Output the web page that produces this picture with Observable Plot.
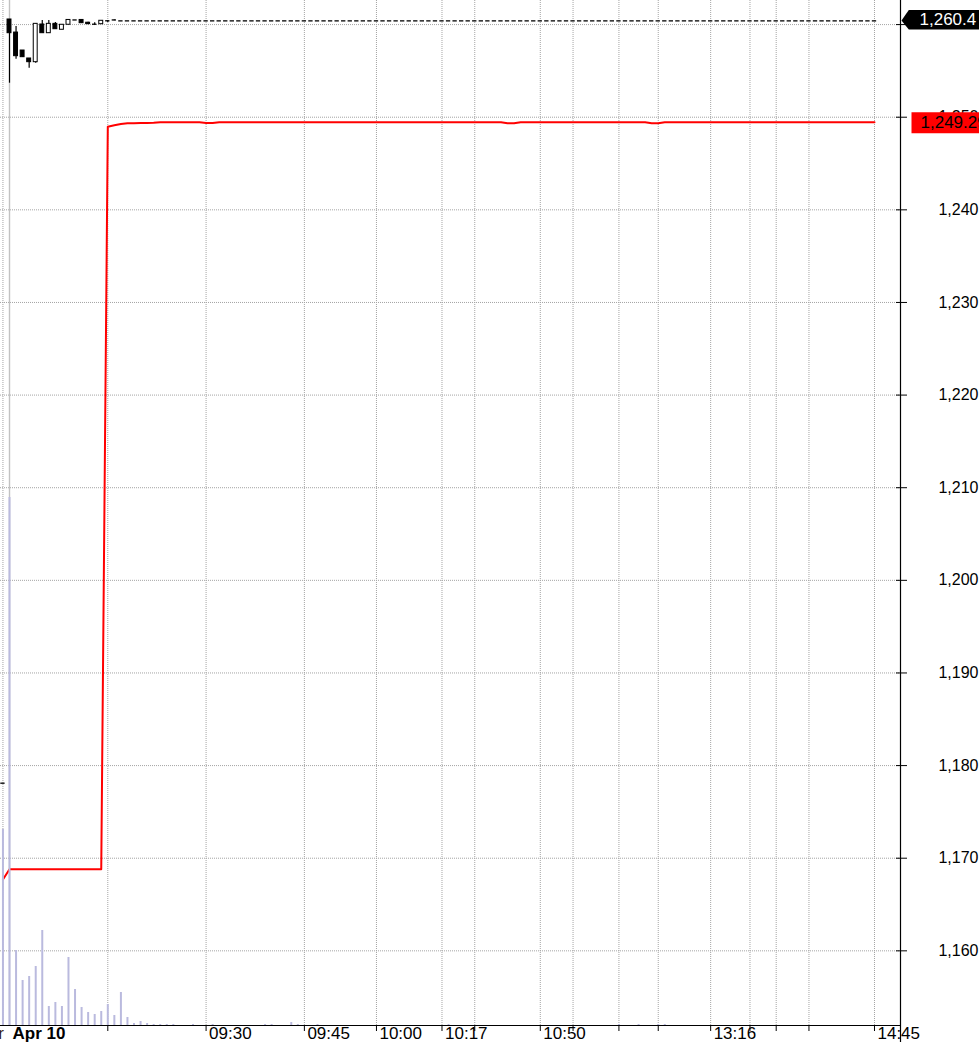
<!DOCTYPE html>
<html><head><meta charset="utf-8">
<script src="https://cdn.jsdelivr.net/npm/d3@7"></script>
<script src="https://cdn.jsdelivr.net/npm/@observablehq/plot@0.6"></script>
<style>
html,body{margin:0;padding:0;background:#fff;overflow:hidden}
#chart{position:relative;width:979px;height:1042px}
#chart svg{position:absolute;left:0;top:0}
</style></head><body><div id="chart"></div>
<script>
// ---- data ----
// opening bars of the session (index 0..17): open / high / low
const openStart = [1178.1, 1260.55, 1259.14, 1257.2, 1256.34, 1255.94, 1260.01, 1259.07, 1260.08, 1259.44,
                   1259.98, 1260.5, 1260.5, 1260.2, 1260.04, 1260.04, 1260.41, 1260.5];
const highStart = [1178.1, 1260.55, 1259.79, 1257.2, 1256.34, 1260.08, 1260.44, 1260.44, 1260.22, 1259.98,
                   1260.5, 1260.5, 1260.5, 1260.26, 1260.19, 1260.41, 1260.41, 1260.5];
const lowStart  = [1178.1, 1253.67, 1256.26, 1256.48, 1255.29, 1255.83, 1259.07, 1259.07, 1259.5, 1259.44,
                   1259.98, 1260.5, 1260.15, 1259.98, 1259.93, 1260.04, 1260.22, 1260.41];
// close of every bar (later bars are flat prints: open = high = low = close)
const close = [
  1178.1, 1259.07, 1256.59, 1256.48, 1255.94, 1260.08, 1259.07, 1260.08, 1259.5, 1259.98,
  1260.5, 1260.5, 1260.15, 1260.05, 1260.04, 1260.41, 1260.41, 1260.5, 1260.4, 1260.4,
  1260.4, 1260.4, 1260.4, 1260.4, 1260.4, 1260.4, 1260.4, 1260.4, 1260.4, 1260.4,
  1260.4, 1260.4, 1260.4, 1260.4, 1260.4, 1260.4, 1260.4, 1260.4, 1260.4, 1260.4,
  1260.4, 1260.4, 1260.4, 1260.4, 1260.4, 1260.4, 1260.4, 1260.4, 1260.4, 1260.4,
  1260.4, 1260.4, 1260.4, 1260.4, 1260.4, 1260.4, 1260.4, 1260.4, 1260.4, 1260.4,
  1260.4, 1260.4, 1260.4, 1260.4, 1260.4, 1260.4, 1260.4, 1260.4, 1260.4, 1260.4,
  1260.4, 1260.4, 1260.4, 1260.4, 1260.4, 1260.4, 1260.4, 1260.4, 1260.4, 1260.4,
  1260.4, 1260.4, 1260.4, 1260.4, 1260.4, 1260.4, 1260.4, 1260.4, 1260.4, 1260.4,
  1260.4, 1260.4, 1260.4, 1260.4, 1260.4, 1260.4, 1260.4, 1260.4, 1260.4, 1260.4,
  1260.4, 1260.4, 1260.4, 1260.4, 1260.4, 1260.4, 1260.4, 1260.4, 1260.4, 1260.4,
  1260.4, 1260.4, 1260.4, 1260.4, 1260.4, 1260.4, 1260.4, 1260.4, 1260.4, 1260.4,
  1260.4, 1260.4, 1260.4, 1260.4, 1260.4, 1260.4, 1260.4, 1260.4, 1260.4, 1260.4,
  1260.4, 1260.4, 1260.4, 1260.4
];
// red reference line, one value per bar
const refLine = [
  1167.7, 1168.8, 1168.8, 1168.8, 1168.8, 1168.8, 1168.8, 1168.8, 1168.8, 1168.8,
  1168.8, 1168.8, 1168.8, 1168.8, 1168.8, 1168.8, 1248.98, 1249.13, 1249.26, 1249.34,
  1249.36, 1249.37, 1249.38, 1249.4, 1249.45, 1249.45, 1249.45, 1249.45, 1249.45, 1249.45,
  1249.45, 1249.38, 1249.38, 1249.45, 1249.45, 1249.45, 1249.45, 1249.45, 1249.45, 1249.45,
  1249.45, 1249.45, 1249.45, 1249.45, 1249.45, 1249.45, 1249.45, 1249.45, 1249.45, 1249.45,
  1249.45, 1249.45, 1249.45, 1249.45, 1249.45, 1249.45, 1249.45, 1249.45, 1249.45, 1249.45,
  1249.45, 1249.45, 1249.45, 1249.45, 1249.45, 1249.45, 1249.45, 1249.45, 1249.45, 1249.45,
  1249.45, 1249.45, 1249.45, 1249.45, 1249.45, 1249.45, 1249.45, 1249.34, 1249.34, 1249.45,
  1249.45, 1249.45, 1249.45, 1249.45, 1249.45, 1249.45, 1249.45, 1249.45, 1249.45, 1249.45,
  1249.45, 1249.45, 1249.45, 1249.45, 1249.45, 1249.45, 1249.45, 1249.45, 1249.45, 1249.34,
  1249.34, 1249.45, 1249.45, 1249.45, 1249.45, 1249.45, 1249.45, 1249.45, 1249.45, 1249.45,
  1249.45, 1249.45, 1249.45, 1249.45, 1249.45, 1249.45, 1249.45, 1249.45, 1249.45, 1249.45,
  1249.45, 1249.45, 1249.45, 1249.45, 1249.45, 1249.45, 1249.45, 1249.45, 1249.45, 1249.45,
  1249.45, 1249.45, 1249.45, 1249.45
];
// volume per bar
const volume = [
  196, 528, 75, 45, 49, 59, 95, 19, 23, 19,
  68, 36, 18, 13, 11, 14, 21, 10, 33, 8,
  2, 4, 2, 1, 1, 1, 1, 0, 0, 1,
  0, 0, 1, 0, 0, 0, 0, 0, 0, 0,
  1, 1, 0, 0, 3, 1, 0, 0, 1, 0,
  0, 0, 0, 0, 0, 0, 0, 0, 0, 0,
  0, 0, 0, 0, 0, 0, 0, 0, 1, 0,
  0, 0, 0, 0, 0, 0, 0, 0, 0, 0,
  0, 0, 0, 0, 0, 0, 0, 0, 0, 0,
  0, 0, 0, 0, 1, 0, 0, 1, 0, 0,
  1, 1, 0, 0, 0, 0, 0, 0, 0, 0,
  0, 0, 0, 0, 0, 0, 0, 0, 0, 0,
  0, 0, 0, 0, 0, 0, 0, 0, 0, 0,
  0, 0, 0, 0
];
const yTicks = [1160, 1170, 1180, 1190, 1200, 1210, 1220, 1230, 1240, 1250, 1260];
// right-axis labels that are not hidden behind the last-price tag
const yTickLabels = [1160, 1170, 1180, 1190, 1200, 1210, 1220, 1230, 1240, 1250];
const tickBars = [16, 31, 46, 57, 67, 72, 82, 87, 94, 100, 108, 114, 118, 123, 133];
const tickLabels = ["", "09:30", "09:45", "10:00", "10:17", "", "10:50", "", "", "", "13:16", "", "", "", "14:45"];
const gridBars = [0, 16, 31, 46, 57, 67, 72, 82, 87, 94, 100, 108, 114, 118, 123, 133];
const daySep = [1];
const dayLabels = ["Apr 10"];
const prevLabelTail = ["r"];
const lastPrice = [1260.4];
const refLabel = [1249.29];

// ---- scales / layout ----
const xDomain = [-0.374, 136.97];
const yDomain = [1151.94, 1262.6];
const font = "Arial, 'Liberation Sans', sans-serif";
const base = {width: 979, height: 1042, marginLeft: 0, marginRight: 79, marginTop: 0, marginBottom: 17};

const candles = close.map((c, i) => ({
  i,
  o: i < openStart.length ? openStart[i] : c,
  h: i < highStart.length ? highStart[i] : c,
  l: i < lowStart.length ? lowStart[i] : c,
  c
}));
const xLabelData = tickBars.map((t, k) => ({t, s: tickLabels[k]})).filter(d => d.s !== "");
const fmtInt = d3.format(",");

const arrowTag = {draw(ctx) {
  ctx.moveTo(1, -0.4); ctx.lineTo(8.3, -11); ctx.lineTo(80, -11);
  ctx.lineTo(80, 8.6); ctx.lineTo(8.3, 8.6); ctx.closePath();
}};
const boxTag = {draw(ctx) {
  ctx.moveTo(11, -11.6); ctx.lineTo(80, -11.6); ctx.lineTo(80, 9.4); ctx.lineTo(11, 9.4); ctx.closePath();
}};
const grid = {stroke: "#a4a4a4", strokeOpacity: 1, strokeDasharray: "1,1"};
const bottomText = {frameAnchor: "bottom", lineAnchor: "top", dy: 1, fontSize: 17, fill: "black"};

const pricePlot = Plot.plot({
  ...base,
  style: {fontFamily: font, background: "white", overflow: "visible"},
  x: {domain: xDomain, label: null},
  y: {domain: yDomain, label: null},
  marks: [
    Plot.gridY(yTicks, grid),
    Plot.gridX(gridBars, grid),
    Plot.ruleX(daySep, {stroke: "#c2c2c2", strokeWidth: 1.4}),
    Plot.ruleX(candles.filter(d => d.h > d.l), {x: "i", y1: "l", y2: "h", stroke: "black", strokeWidth: 1.2}),
    Plot.rect(candles.filter(d => d.o !== d.c), {
      x1: d => d.i - 0.3, x2: d => d.i + 0.3, y1: "o", y2: "c",
      fill: d => d.c < d.o ? "black" : "white", stroke: "black", strokeWidth: 1
    }),
    Plot.ruleY(candles.filter(d => d.o === d.c), {
      y: "c", x1: d => d.i - 0.33, x2: d => d.i + 0.33, stroke: "black", strokeWidth: 1.3
    }),
    Plot.line(refLine, {x: (d, i) => i, y: d => d, stroke: "#ff0000", strokeWidth: 2}),
    Plot.ruleY([yDomain[0]], {stroke: "black", strokeWidth: 1.2}),
    Plot.ruleX([xDomain[1]], {stroke: "black", strokeWidth: 1.2, insetBottom: -17}),
    // bottom ticks (labels drawn separately)
    Plot.axisX(tickBars, {tickSize: 6, tickFormat: () => "", stroke: "black"}),
    Plot.text(xLabelData, {x: "t", text: "s", textAnchor: "start", dx: 3, ...bottomText}),
    Plot.text(daySep, {x: d => d, text: (d, k) => dayLabels[k], textAnchor: "start", dx: 3, fontWeight: "bold", ...bottomText}),
    Plot.text(prevLabelTail, {x: () => 0, text: d => d, textAnchor: "end", dx: 1, ...bottomText, fill: "#3a1a10"}),
    // right ticks crossing the axis line, labels right-aligned at the edge
    Plot.axisY(yTicks, {anchor: "right", tickSize: 11, dx: -5, tickFormat: () => "", stroke: "black"}),
    Plot.text(yTickLabels, {y: d => d, text: fmtInt, frameAnchor: "right", textAnchor: "end", dx: 78, fontSize: 16, fill: "black"}),
    Plot.dot(lastPrice, {y: d => d, frameAnchor: "right", symbol: arrowTag, r: 10, fill: "black", stroke: "none"}),
    Plot.text(lastPrice, {
      y: d => d, text: d => d3.format(",.1f")(d), frameAnchor: "right", textAnchor: "start",
      dx: 19, dy: -1, fill: "white", fontSize: 17
    }),
    Plot.dot(refLabel, {y: d => d, frameAnchor: "right", symbol: boxTag, r: 10, fill: "#ff0000", stroke: "none"}),
    Plot.text(refLabel, {
      y: d => d, text: d => d3.format(",.2f")(d), frameAnchor: "right", textAnchor: "start",
      dx: 20, dy: -1, fill: "black", fontSize: 17
    })
  ]
});

const volumePlot = Plot.plot({
  ...base,
  style: {fontFamily: font, background: "transparent", overflow: "visible", pointerEvents: "none"},
  x: {domain: xDomain, axis: null},
  y: {domain: [0, 1025], axis: null},
  marks: [
    Plot.ruleX(volume.map((v, i) => ({i, v})).filter(d => d.v > 0), {
      x: "i", y1: 0, y2: "v", stroke: "#babade", strokeWidth: 2
    })
  ]
});

const root = document.getElementById("chart");
root.appendChild(pricePlot);
root.appendChild(volumePlot);
</script>
</body></html>
